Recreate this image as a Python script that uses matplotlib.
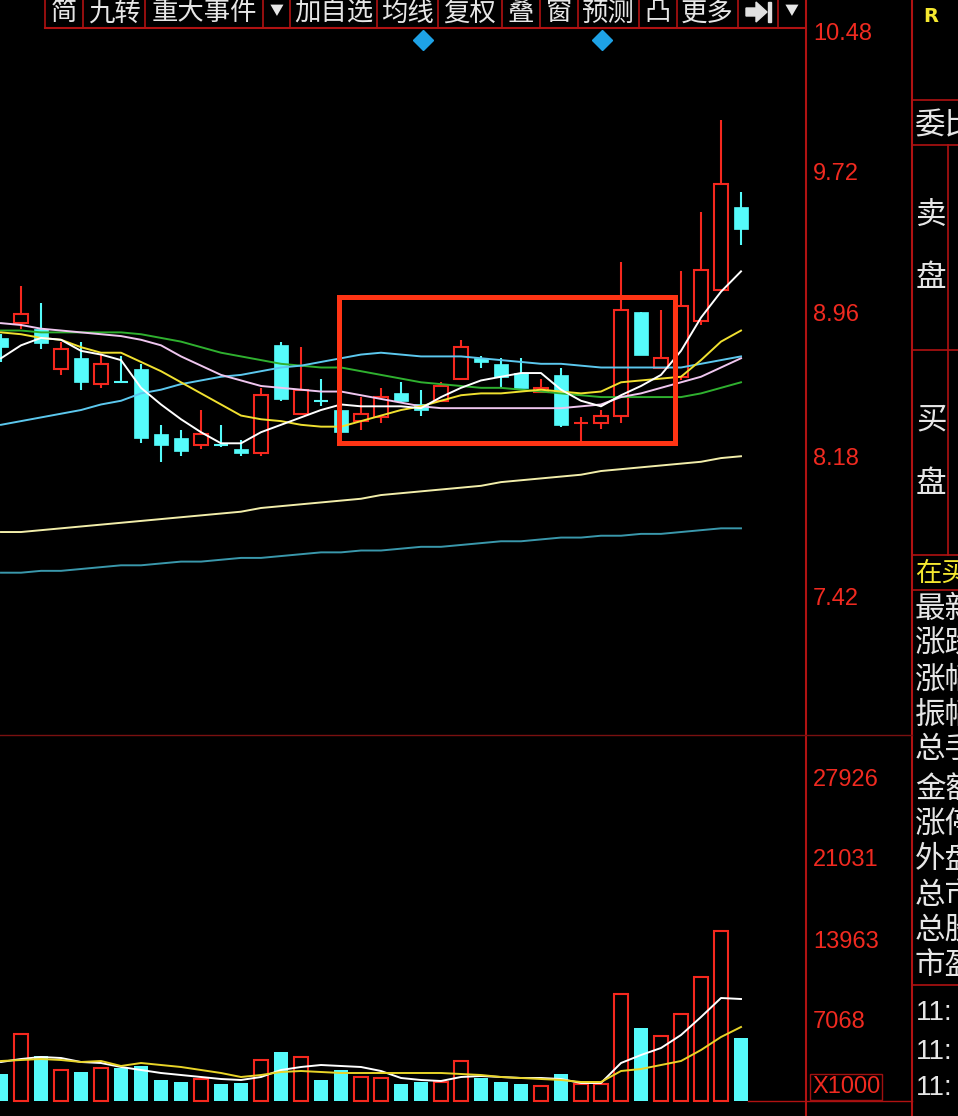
import matplotlib.pyplot as plt
import numpy as np
from matplotlib.patches import Rectangle, Polygon

plt.rcParams['font.family'] = ['Noto Sans CJK SC', 'DejaVu Sans']

# daily candles, oldest first (the first one is cut by the left frame)
opens = [8.82, 8.90, 8.87, 8.65, 8.71, 8.57, 8.58, 8.65, 8.30, 8.28, 8.24, 8.24, 8.22,
         8.20, 8.78, 8.41, 8.48, 8.43, 8.37, 8.39, 8.52, 8.46, 8.48, 8.60, 8.71, 8.68,
         8.63, 8.53, 8.62, 8.36, 8.36, 8.40, 8.96, 8.66, 8.61, 8.91, 9.08, 9.53]
highs = [8.84, 9.10, 9.01, 8.80, 8.80, 8.73, 8.72, 8.68, 8.35, 8.32, 8.43, 8.35, 8.27,
         8.55, 8.80, 8.77, 8.60, 8.46, 8.50, 8.55, 8.58, 8.54, 8.58, 8.81, 8.72, 8.71,
         8.71, 8.60, 8.66, 8.39, 8.43, 9.23, 8.96, 8.97, 9.18, 9.50, 10.00, 9.61]
lows = [8.69, 8.87, 8.76, 8.62, 8.54, 8.55, 8.58, 8.25, 8.15, 8.18, 8.22, 8.23, 8.18,
        8.18, 8.48, 8.41, 8.45, 8.31, 8.32, 8.36, 8.47, 8.40, 8.48, 8.60, 8.66, 8.55,
        8.55, 8.52, 8.34, 8.26, 8.33, 8.36, 8.73, 8.66, 8.59, 8.89, 9.08, 9.32]
closes = [8.77, 8.95, 8.79, 8.76, 8.58, 8.68, 8.58, 8.28, 8.24, 8.21, 8.30, 8.24, 8.20,
          8.51, 8.49, 8.54, 8.48, 8.31, 8.41, 8.50, 8.48, 8.43, 8.56, 8.77, 8.69, 8.61,
          8.55, 8.55, 8.35, 8.36, 8.40, 8.97, 8.73, 8.71, 8.99, 9.19, 9.65, 9.41]

# moving averages as drawn on the chart
ma5 = [8.71, 8.78, 8.82, 8.81, 8.75, 8.73, 8.70, 8.55, 8.46, 8.38, 8.31, 8.25, 8.25,
       8.31, 8.35, 8.39, 8.43, 8.46, 8.45, 8.45, 8.45, 8.44, 8.50, 8.55, 8.59, 8.61,
       8.63, 8.63, 8.54, 8.48, 8.45, 8.51, 8.56, 8.62, 8.75, 8.93, 9.07, 9.18]
ma10 = [8.85, 8.84, 8.82, 8.81, 8.77, 8.74, 8.74, 8.69, 8.64, 8.58, 8.52, 8.46, 8.40,
        8.38, 8.37, 8.35, 8.34, 8.34, 8.37, 8.40, 8.43, 8.45, 8.48, 8.51, 8.52, 8.52,
        8.53, 8.54, 8.53, 8.52, 8.53, 8.58, 8.59, 8.60, 8.61, 8.70, 8.80, 8.86]
ma20 = [8.90, 8.89, 8.87, 8.86, 8.85, 8.84, 8.83, 8.81, 8.78, 8.72, 8.67, 8.62, 8.59,
        8.56, 8.55, 8.54, 8.53, 8.53, 8.51, 8.49, 8.47, 8.45, 8.44, 8.44, 8.44, 8.44,
        8.44, 8.44, 8.44, 8.45, 8.46, 8.50, 8.52, 8.55, 8.58, 8.61, 8.66, 8.71]
ma30 = [8.86, 8.86, 8.85, 8.85, 8.85, 8.85, 8.85, 8.84, 8.82, 8.80, 8.77, 8.74, 8.72,
        8.70, 8.68, 8.67, 8.66, 8.66, 8.64, 8.62, 8.60, 8.58, 8.57, 8.56, 8.55, 8.55,
        8.54, 8.53, 8.52, 8.51, 8.50, 8.50, 8.50, 8.50, 8.50, 8.52, 8.55, 8.58]
ma60 = [8.35, 8.37, 8.39, 8.41, 8.43, 8.46, 8.48, 8.52, 8.54, 8.57, 8.59, 8.61, 8.62,
        8.64, 8.66, 8.67, 8.69, 8.71, 8.73, 8.74, 8.73, 8.72, 8.72, 8.72, 8.71, 8.70,
        8.69, 8.68, 8.68, 8.67, 8.66, 8.66, 8.66, 8.66, 8.66, 8.68, 8.70, 8.72]
ma120 = [7.77, 7.77, 7.78, 7.79, 7.80, 7.81, 7.82, 7.83, 7.84, 7.85, 7.86, 7.87, 7.88,
         7.90, 7.91, 7.92, 7.93, 7.94, 7.95, 7.97, 7.98, 7.99, 8.00, 8.01, 8.02, 8.04,
         8.05, 8.06, 8.07, 8.08, 8.10, 8.11, 8.12, 8.13, 8.14, 8.15, 8.17, 8.18]
ma250 = [7.55, 7.55, 7.56, 7.56, 7.57, 7.58, 7.59, 7.59, 7.60, 7.61, 7.61, 7.62, 7.63,
         7.63, 7.64, 7.65, 7.66, 7.66, 7.67, 7.67, 7.68, 7.69, 7.69, 7.70, 7.71, 7.72,
         7.72, 7.73, 7.74, 7.74, 7.75, 7.75, 7.76, 7.76, 7.77, 7.78, 7.79, 7.79]

# volume, in units of 1000 shares
volume = [2327, 5775, 3879, 2672, 2500, 2845, 2845, 3017, 1810, 1638, 1896, 1465, 1552,
          3534, 4224, 3793, 1810, 2672, 2069, 1983, 1465, 1638, 1638, 3448, 1983, 1638,
          1465, 1293, 2327, 1465, 1465, 9223, 6293, 5603, 7500, 10689, 14654, 5431]
vol_ma5 = [3362, 3620, 3793, 3707, 3362, 3276, 2931, 2672, 2414, 2241, 2069, 1896, 1810,
           2069, 2672, 2931, 3103, 3017, 2931, 2586, 1983, 1810, 1724, 2069, 2155, 2069,
           1983, 1983, 1896, 1552, 1552, 3276, 3965, 4569, 5689, 7241, 8879, 8792]
vol_ma10 = [3448, 3534, 3620, 3534, 3362, 3448, 3017, 3276, 3103, 2931, 2672, 2414, 2069,
            2241, 2500, 2586, 2500, 2414, 2414, 2414, 2414, 2414, 2414, 2327, 2241, 2069,
            1983, 1896, 1810, 1638, 1638, 2586, 2758, 3103, 3448, 4396, 5517, 6379]

price_ticks = [10.48, 9.72, 8.96, 8.18, 7.42]
vol_ticks = [7068, 13963, 21031, 27926]

# highlighted consolidation zone (candle index range, price range)
zone_idx = [16.9, 33.7]
zone_price = [8.25, 9.04]

toolbar = ['简', '九转', '重大事件', '▼', '加自选', '均线', '复权', '叠', '窗', '预测', '凸', '更多', '', '▼']
side_rows = ['最新', '涨跌', '涨幅', '振幅', '总手', '金额', '涨停', '外盘', '总市', '总股', '市盈']
side_times = ['11:', '11:', '11:']

W, H = 958, 1116
SPLIT = 735
CHART_R = 806
PANEL_L = 912
RED = '#f5281e'
CYAN = '#55fafa'
FRAME = '#b01212'
LABEL = '#f02a20'
TXT = '#e6e6e6'

fig = plt.figure(figsize=(W / 100, H / 100), dpi=100, facecolor='black')
ax = fig.add_axes([0, (H - SPLIT) / H, CHART_R / W, SPLIT / H], facecolor='black')
axv = fig.add_axes([0, 0, CHART_R / W, (H - SPLIT) / H], facecolor='black')

idx = np.arange(len(opens))
o, hi, lo, c = map(np.array, (opens, highs, lows, closes))
prev = np.r_[c[0], c[:-1]]
up = (c > o) | ((c == o) & (c >= prev))

bw = 0.7
for k in idx:
    top, bot = max(o[k], c[k]), min(o[k], c[k])
    if up[k]:
        ax.vlines(k, top, hi[k], color=RED, lw=1.5, zorder=2)
        ax.vlines(k, lo[k], bot, color=RED, lw=1.5, zorder=2)
        if top > bot:
            ax.add_patch(Rectangle((k - bw / 2, bot), bw, top - bot, fc='black', ec=RED, lw=1.5, zorder=3))
        else:
            ax.hlines(top, k - bw / 2, k + bw / 2, color=RED, lw=1.5, zorder=3)
    else:
        ax.vlines(k, lo[k], hi[k], color=CYAN, lw=1.5, zorder=2)
        if top > bot:
            ax.add_patch(Rectangle((k - bw / 2, bot), bw, top - bot, fc=CYAN, ec=CYAN, lw=0.5, zorder=3))
        else:
            ax.hlines(top, k - bw / 2, k + bw / 2, color=CYAN, lw=1.5, zorder=3)

ma_styles = [(ma250, '#3a98ac'), (ma120, '#f2eeaa'), (ma30, '#2fb02f'), (ma60, '#5cc8ee'),
             (ma20, '#efc6ef'), (ma10, '#f0e030'), (ma5, '#ffffff')]
for series, col in ma_styles:
    ax.plot(idx, series, color=col, lw=1.4, zorder=4)

ax.add_patch(Rectangle((zone_idx[0], zone_price[0]), zone_idx[1] - zone_idx[0],
                       zone_price[1] - zone_price[0], fill=False, ec='#ff3414', lw=3.6, zorder=6))

v = np.array(volume)
axv.bar(idx[up], v[up], width=0.66, facecolor='black', edgecolor=RED, lw=1.5, zorder=2)
axv.bar(idx[~up], v[~up], width=0.66, color=CYAN, zorder=2)
axv.plot(idx, vol_ma5, color='#ffffff', lw=1.4, zorder=4)
axv.plot(idx, vol_ma10, color='#e8d428', lw=1.4, zorder=4)

for a in (ax, axv):
    a.set_xlim(-0.05, 40.25)
    for s in a.spines.values():
        s.set_visible(False)
    a.tick_params(axis='x', bottom=False, labelbottom=False)
    a.yaxis.tick_right()
    a.tick_params(axis='y', length=0, pad=5, labelsize=17, labelcolor=LABEL)
ax.set_ylim(6.672, 10.648)
ax.set_yticks(price_ticks, [f'{t:.2f}' for t in price_ticks], fontfamily='Liberation Sans')
axv.set_ylim(-1293, 31549)
axv.set_yticks(vol_ticks, [str(t) for t in vol_ticks], fontfamily='Liberation Sans')

# overlay in pixel coordinates for the frame, toolbar and side panel
ov = fig.add_axes([0, 0, 1, 1], facecolor='none')
ov.set_xlim(0, W)
ov.set_ylim(H, 0)
ov.axis('off')

ov.plot([CHART_R, CHART_R], [0, H], color=FRAME, lw=1.5)
ov.plot([PANEL_L, PANEL_L], [0, H], color=FRAME, lw=1.5)
ov.plot([0, PANEL_L], [SPLIT, SPLIT], color='#7a1010', lw=1)
ov.plot([748, PANEL_L], [1101, 1101], color=FRAME, lw=1)

edges = [45, 83, 145, 263, 290, 377, 438, 502, 540, 578, 639, 677, 738, 778, 806]
ov.plot([45, 806], [28, 28], color=FRAME, lw=1.5)
for e in edges:
    ov.plot([e, e], [0, 28], color=FRAME, lw=1.2)
for lab, l, r in zip(toolbar, edges[:-1], edges[1:]):
    if lab == '▼':
        ov.text((l + r) / 2, 11, lab, color=TXT, fontsize=10, ha='center', va='center')
    elif lab:
        ov.text((l + r) / 2, 13, lab, color=TXT, fontsize=19, ha='center', va='center')
# "jump to end" icon
ov.add_patch(Polygon([[746, 8], [756, 8], [756, 2], [767, 12], [756, 22], [756, 16], [746, 16]],
                     closed=True, color='#e0e0e0'))
ov.add_patch(Rectangle((768, 2), 3.5, 20, color='#e0e0e0'))
ov.plot([423, 602], [40, 40], 'D', ms=10, color='#1ea2e6', ls='none')

# side panel
ov.text(923, 17, 'R', color='#f5e830', fontsize=14, fontweight='bold', va='center',
        fontfamily='DejaVu Sans')
for y in (100, 145, 350, 555, 590, 985):
    ov.plot([PANEL_L, W], [y, y], color=FRAME, lw=1.2)
ov.plot([948, 948], [145, 555], color=FRAME, lw=1.2)
ov.text(915, 126, '委比', color=TXT, fontsize=22, va='center')
for ch, y in zip('卖盘买盘', (215, 278, 420, 483)):
    ov.text(916, y, ch, color=TXT, fontsize=22, va='center')
ov.text(915, 573, '在买', color='#f5e830', fontsize=19, va='center')
for lab, y in zip(side_rows, (610, 644, 680, 715, 750, 790, 825, 860, 895, 930, 966)):
    ov.text(915, y, lab, color=TXT, fontsize=22, va='center')
for lab, y in zip(side_times, (1013, 1052, 1088)):
    ov.text(916, y, lab, color=TXT, fontsize=20, va='center', fontfamily='Liberation Sans')
ov.text(812, 1087, 'X1000', color=LABEL, fontsize=17, va='center', fontfamily='Liberation Sans',
        bbox=dict(boxstyle='square,pad=0.08', fc='black', ec='#a01010', lw=1))

fig.savefig('out.png', dpi=100, facecolor='black')
